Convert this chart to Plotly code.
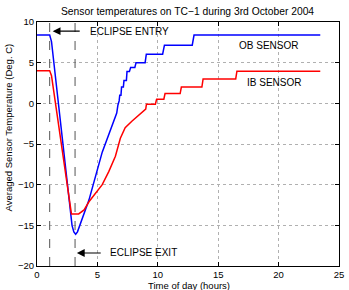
import plotly.graph_objects as go

# OB sensor (blue)
ob_x = [0, 1.05, 1.2, 2.9, 3.05, 3.2, 3.35, 4.3, 5.4, 6.5, 6.6, 6.7, 6.8, 6.85, 6.95, 7.0, 7.15, 7.2, 7.4, 7.45,
        7.65, 7.75, 8.1, 8.2, 8.95, 9.05, 10.4, 10.55, 12.85, 13.0, 23.45]
ob_y = [8.4, 8.4, 7.6, -15.0, -15.8, -16.1, -15.8, -11.9, -6.0, -1.7, -1.2, -0.2, 0.3, 1.0, 1.0, 2.0, 2.0, 2.8, 2.8, 3.9,
        3.9, 4.4, 4.4, 5.0, 5.0, 6.05, 6.05, 7.15, 7.15, 8.4, 8.4]

# IB sensor (red)
ib_x = [0, 1.05, 1.2, 2.85, 3.45, 3.9, 4.3, 4.86, 5.4, 5.94, 6.49, 6.9, 7.3, 7.85, 8.5, 9.0, 9.06, 9.8, 9.9,
        10.5, 10.6, 11.85, 11.95, 13.65, 13.75, 16.45, 16.55, 23.45]
ib_y = [4.0, 4.0, 3.4, -13.6, -13.6, -13.1, -12.1, -11.0, -10.0, -8.4, -6.5, -4.3, -3.0, -2.2, -1.4, -0.7, -0.1, -0.1, 0.5,
        0.5, 1.2, 1.2, 2.0, 2.0, 3.0, 3.0, 3.95, 3.95]

eclipse_entry = 1.05
eclipse_exit = 3.15

x_ticks = [0, 5, 10, 15, 20, 25]
y_ticks = [-20, -15, -10, -5, 0, 5, 10]

font = "Liberation Sans, Arial, sans-serif"

fig = go.Figure()
fig.add_trace(go.Scatter(x=ob_x, y=ob_y, mode="lines", line=dict(color="#0000ff", width=1.5), showlegend=False))
fig.add_trace(go.Scatter(x=ib_x, y=ib_y, mode="lines", line=dict(color="#ff0000", width=1.5), showlegend=False))

for xv in [eclipse_entry, eclipse_exit]:
    fig.add_shape(type="line", x0=xv, x1=xv, y0=-20, y1=10, xref="x", yref="y",
                  line=dict(color="#555555", width=1, dash="dash"))

annotations = [
    dict(x=1.3, y=8.87, ax=3.66, ay=8.87, axref="x", ayref="y", xref="x", yref="y", text="",
         showarrow=True, arrowhead=2, arrowsize=1.3, arrowwidth=1.2, arrowcolor="black"),
    dict(x=4.2, y=8.87, xref="x", yref="y", text="ECLIPSE ENTRY", showarrow=False, xanchor="left",
         font=dict(size=10, color="black")),
    dict(x=3.3, y=-18.4, ax=5.4, ay=-18.4, axref="x", ayref="y", xref="x", yref="y", text="",
         showarrow=True, arrowhead=2, arrowsize=1.3, arrowwidth=1.2, arrowcolor="black"),
    dict(x=5.84, y=-18.4, xref="x", yref="y", text="ECLIPSE EXIT", showarrow=False, xanchor="left",
         font=dict(size=10, color="black")),
    dict(x=19.2, y=7.15, xref="x", yref="y", text="OB SENSOR", showarrow=False,
         font=dict(size=10, color="black")),
    dict(x=19.6, y=2.55, xref="x", yref="y", text="IB SENSOR", showarrow=False,
         font=dict(size=10, color="black")),
    dict(x=-0.0945, y=0.57, xref="paper", yref="paper", text="Averaged Sensor Temperature (Deg. C)",
         showarrow=False, textangle=-90, xanchor="center", yanchor="middle", font=dict(size=9.5, color="black")),
    dict(x=0.502, y=-0.078, xref="paper", yref="paper", text="Time of day (hours)",
         showarrow=False, xanchor="center", yanchor="middle", font=dict(size=9.5, color="black")),
    dict(x=0.498, y=1.041, xref="paper", yref="paper", text="Sensor temperatures on TC\u22121 during 3rd October 2004",
         showarrow=False, xanchor="center", yanchor="middle", font=dict(size=10.3, color="black")),
]

axis_common = dict(showline=True, linecolor="black", linewidth=1, mirror="ticks", ticks="inside",
                   ticklen=4, tickcolor="black", showgrid=True, gridcolor="#b0b0b0", griddash="dot",
                   gridwidth=1, zeroline=False, tickfont=dict(size=9.5, color="black"),
                   ticklabeloverflow="allow")

fig.update_layout(
    width=349, height=290,
    margin=dict(l=37, r=5, t=22, b=24),
    paper_bgcolor="white", plot_bgcolor="white",
    font=dict(family=font, size=9.5, color="black"),
    xaxis=dict(range=[0, 25], tickvals=x_ticks, **axis_common),
    yaxis=dict(range=[-20, 10], tickvals=y_ticks, **axis_common),
    annotations=annotations,
)

fig.write_html("out.html")
